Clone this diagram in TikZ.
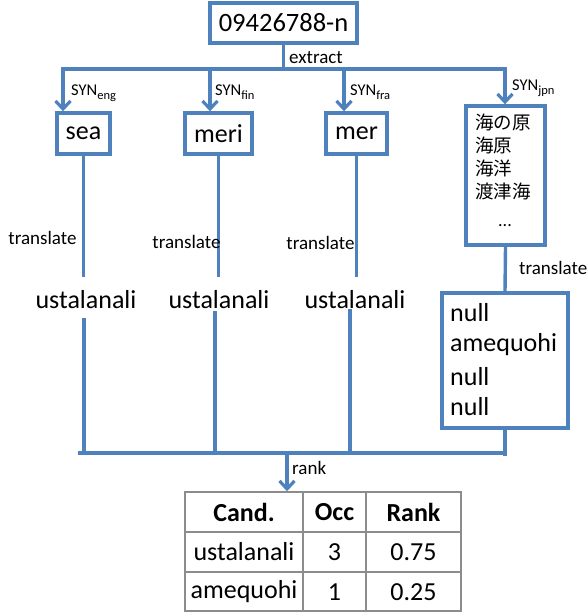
\documentclass[tikz,border=0pt]{standalone}
\usepackage{fontspec}
\setmainfont{Carlito}
\newfontfamily\jpfont{Noto Sans CJK JP}
\usetikzlibrary{arrows.meta}
\definecolor{obl}{HTML}{4F81BD}
\definecolor{tgray}{HTML}{8C8C8C}
\newcommand\synlab[1]{SYN\raisebox{-3.5pt}{\fontsize{12.5}{12.5}\selectfont #1}}
\tikzset{
  conn/.style={draw=obl, line width=3.4pt},
  arr/.style={conn, -{Straight Barb[length=8pt,width=15pt,line width=3.2pt]}},
  box/.style={draw=obl, line width=3.4pt, inner sep=0pt, fill=white},
  big/.style={font=\fontsize{26}{28}\selectfont, inner sep=0pt},
  small/.style={font=\fontsize{19}{21}\selectfont, inner sep=0pt},
  syn/.style={font=\fontsize{16.5}{18}\selectfont, inner sep=0pt, anchor=base west},
  jp/.style={font=\jpfont\fontsize{18.5}{20}\selectfont, inner sep=0pt, anchor=west},
  nl/.style={font=\fontsize{26}{28}\selectfont, inner sep=0pt, anchor=west},
  tline/.style={draw=tgray, line width=1.5pt},
  cell/.style={font=\fontsize{26}{28}\selectfont, inner sep=0pt},
}
\begin{document}
\begin{tikzpicture}[x=1pt,y=-1pt]
\useasboundingbox (0,0) rectangle (587,612);
% boxes
\node[box, minimum width=147pt, minimum height=40pt, font=\fontsize{26.5}{28}\selectfont] (top) at (283.5,23) {09426788-n};
\node[box, big, minimum width=53pt, minimum height=41pt] (sea) at (83.5,133.5) {sea};
\node[box, big, minimum width=67pt, minimum height=41pt] (meri) at (218.5,133.5) {meri};
\node[box, big, minimum width=61pt, minimum height=41pt] (mer) at (356.5,133.5) {mer};
\node[box, minimum width=79pt, minimum height=139pt] (jpn) at (505.5,175.5) {};
\node[box, minimum width=126pt, minimum height=135pt] (nullbox) at (505,360.5) {};
% japanese synonyms
\node[jp] (ja1) at (475,122) {海の原};
\node[jp] (ja2) at (475,145) {海原};
\node[jp] (ja3) at (475,168) {海洋};
\node[jp] (ja4) at (475,191) {渡津海};
\node[font=\fontsize{18}{20}\selectfont, inner sep=0pt] (ja5) at (505,226) {...};
% null box texts
\node[nl] (n1) at (450,313) {null};
\node[nl] (n2) at (450,345) {amequohi};
\node[nl] (n3) at (450,377) {null};
\node[nl] (n4) at (450,407) {null};
% translated words
\node[big, minimum height=46pt] (u1) at (86,300) {ustalanali};
\node[big, minimum height=46pt] (u2) at (219,300) {ustalanali};
\node[big, minimum height=46pt] (u3) at (355,300) {ustalanali};
% bus coordinates
\coordinate (b1) at (63,69);
\coordinate (b2) at (210,69);
\coordinate (b3) at (344,69);
\coordinate (b4) at (505,69);
\coordinate (bl) at (78,453);
\coordinate (br) at (504,453);
\coordinate (rk) at (287,453);
% top connectors
\draw[conn] (top.south) -- (top.south |- b1);
\draw[conn, line cap=rect] (b1) -- (b4);
\draw[arr] (b1) -- (b1 |- sea.north);
\draw[arr] (b2) -- (b2 |- meri.north);
\draw[arr] (b3) -- (b3 |- mer.north);
\draw[arr] (b4) -- (b4 |- jpn.north);
% translate lines
\draw[conn] (sea.south) -- (sea.south |- u1.north);
\draw[conn] (meri.south) -- (meri.south |- u2.north);
\draw[conn] (mer.south) -- (mer.south |- u3.north);
\draw[conn] (jpn.south) -- (nullbox.north);
% lines to bottom bus
\draw[conn, shorten <=-5pt] ([xshift=-2pt]u1.south) -- ([xshift=-2pt]u1.south |- bl);
\draw[conn, shorten <=-12pt] ([xshift=-4pt]u2.south) -- ([xshift=-4pt]u2.south |- bl);
\draw[conn, shorten <=-14pt] ([xshift=-5pt]u3.south) -- ([xshift=-5pt]u3.south |- bl);
\draw[conn, shorten >=-3pt] (nullbox.south) -- (nullbox.south |- br);
\draw[conn] (bl) -- (br);
% table
\node[draw=tgray, line width=1.5pt, minimum width=276pt, minimum height=119pt, inner sep=0pt] (tbl) at (323,551.5) {};
\draw[arr] (rk) -- (rk |- tbl.north);
\coordinate (cx1) at (303,492);
\coordinate (cx2) at (366,492);
\coordinate (ry1) at (185,532);
\coordinate (ry2) at (185,572);
\draw[tline] (cx1) -- (cx1 |- tbl.south);
\draw[tline] (cx2) -- (cx2 |- tbl.south);
\draw[tline] (ry1) -- (ry1 -| tbl.east);
\draw[tline] (ry2) -- (ry2 -| tbl.east);
\node[cell, font=\bfseries\fontsize{26}{28}\selectfont] (h1) at (244,512) {Cand.};
\node[cell, font=\bfseries\fontsize{26}{28}\selectfont] (h2) at (334.5,512) {Occ};
\node[cell, font=\bfseries\fontsize{26}{28}\selectfont] (h3) at (413.5,512) {Rank};
\node[cell] (r11) at (244,552) {ustalanali};
\node[cell] (r12) at (334.5,552) {3};
\node[cell] (r13) at (413.5,552) {0.75};
\node[cell] (r21) at (244,592) {amequohi};
\node[cell] (r22) at (334.5,592) {1};
\node[cell] (r23) at (413.5,592) {0.25};
% labels
\node[small, anchor=west] (lx) at (289,58) {extract};
\node[syn] (s1) at (71,96) {\synlab{eng}};
\node[syn] (s2) at (215,96) {\synlab{fin}};
\node[syn] (s3) at (350,96) {\synlab{fra}};
\node[syn] (s4) at (512,91) {\synlab{jpn}};
\node[small] (t1) at (42.5,238) {translate};
\node[small] (t2) at (186.5,242) {translate};
\node[small] (t3) at (320.5,243) {translate};
\node[small, anchor=west] (t4) at (519,268) {translate};
\node[small, anchor=west] (lr) at (292,468) {rank};
\end{tikzpicture}
\end{document}
